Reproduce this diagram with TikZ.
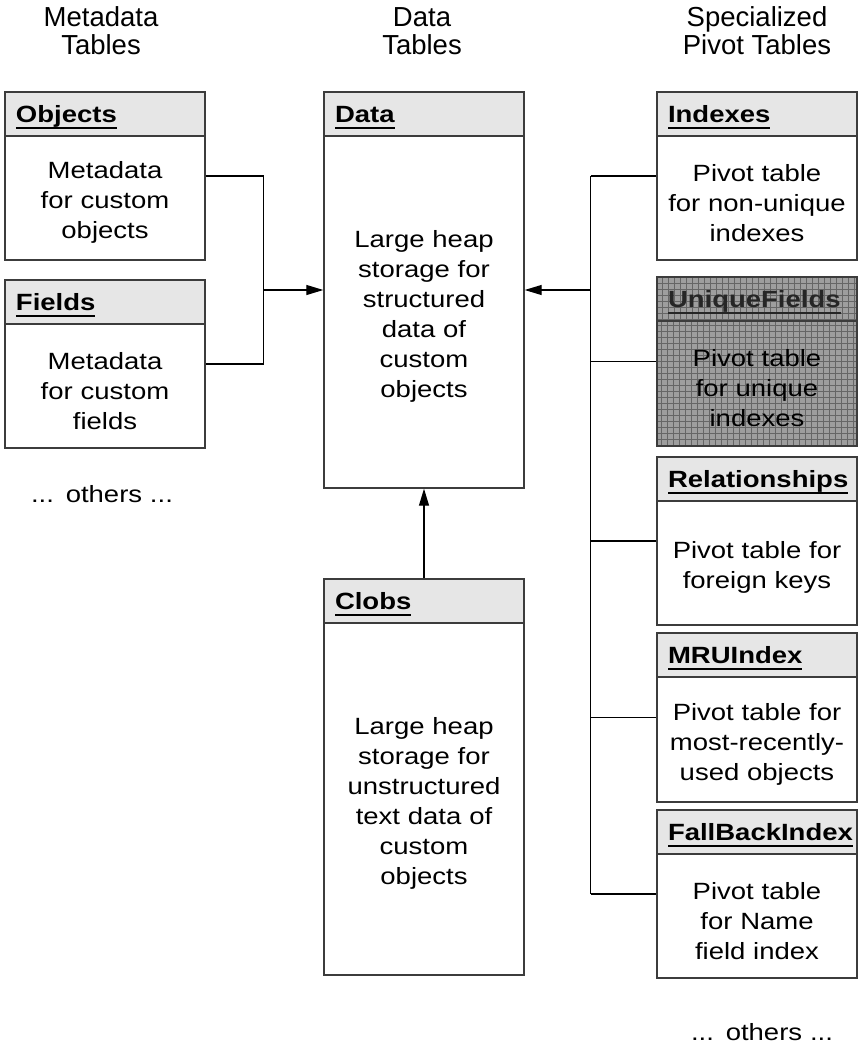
\documentclass[tikz,border=0pt]{standalone}
\usepackage{fontspec}
\setmainfont{Liberation Sans}
\newfontfamily\boxfont[FakeStretch=1.17]{Liberation Sans}
\usetikzlibrary{arrows.meta}
\definecolor{H}{RGB}{230,230,230}
\definecolor{B}{RGB}{60,60,60}
\definecolor{P}{RGB}{158,158,158}
\newcommand{\headline}[1]{\setbox0\hbox{#1}\rlap{\rule[-7pt]{\wd0}{2pt}}\box0}
\newcommand{\dbtable}[7][]{
\node[tabframe,#1,minimum height=#5pt] (#2) at (#3+100,#4+#5/2) {};
\node[tabhead,#1] (#2-h) at (#2.north west) {\headline{#6}};
\path (#2-h.south) -- (#2.south) node[midway,tabbody] (#2-b) {#7};
}
\tikzset{
  tabframe/.style={draw=B, line width=1.4pt, fill=white, minimum width=200pt, inner sep=0pt},
  tabhead/.style={draw=B, line width=1.4pt, fill=H, anchor=north west, minimum height=44pt,
    text width=178pt, inner xsep=11pt, inner ysep=0pt, align=left, text height=18pt, text depth=2pt,
    font=\boxfont\bfseries\fontsize{23.5}{30}\selectfont},
  tabbody/.style={text width=196pt, inner sep=0pt, align=center, yshift=-4pt,
    font=\boxfont\fontsize{23.5}{30}\selectfont},
  coltitle/.style={align=center, font=\fontsize{27.5}{28}\selectfont},
  link/.style={line width=1.2pt},
  arr/.style={link, -{Triangle[length=17pt,width=10pt]}},
  pivothatch/.style={fill=P, text=black!85, path picture={
    \draw[black!60, line width=0.6pt, step=6pt] (path picture bounding box.south west) grid (path picture bounding box.north east);}}
}

\begin{document}
\begin{tikzpicture}[x=1pt,y=-1pt]
\useasboundingbox (0,0) rectangle (859,1044);
% column titles
\node[coltitle] (t1) at (101,31) {Metadata\\Tables};
\node[coltitle] (t2) at (422,31) {Data\\Tables};
\node[coltitle] (t3) at (757,31) {Specialized\\Pivot Tables};
% tables
\dbtable{Objects}{5}{92}{168}{Objects}{Metadata\\for custom\\objects}
\dbtable{Fields}{5}{280}{168}{Fields}{Metadata\\for custom\\fields}
\dbtable{Data}{324}{92}{396}{Data}{Large heap\\storage for\\structured\\data of\\custom\\objects}
\dbtable{Clobs}{324}{579}{396}{Clobs}{Large heap\\storage for\\unstructured\\text data of\\custom\\objects}
\dbtable{Indexes}{657}{92}{168}{Indexes}{Pivot table\\for non-unique\\indexes}
\dbtable[pivothatch]{UniqueFields}{657}{277}{169}{UniqueFields}{Pivot table\\for unique\\indexes}
\dbtable{Relationships}{657}{457}{168}{Relationships}{Pivot table for\\foreign keys}
\dbtable{MRUIndex}{657}{633}{169}{MRUIndex}{Pivot table for\\most-recently-\\used objects}
\dbtable{FallBackIndex}{657}{810}{168}{FallBackIndex}{Pivot table\\for Name\\field index}
\node[tabbody,yshift=0pt] (more1) at (102,490) {... others ...};
\node[tabbody,yshift=0pt] (more2) at (762,1028) {... others ...};
% connectors
\path (Data.west) ++(-60,0) coordinate (jl);
\path (Data.east) ++(66,0) coordinate (jr);
\draw[link] (Objects.east) -| (jl) |- (Fields.east);
\draw[arr] (jl) -- (Data.west);
\draw[link] (jr |- Indexes.east) -- (jr |- FallBackIndex.west);
\foreach \t in {Indexes,UniqueFields,Relationships,MRUIndex,FallBackIndex}
  \draw[link] (jr |- \t.west) -- (\t.west);
\draw[arr] (jr) -- (Data.east);
\draw[arr] (Clobs.north) -- (Data.south);
\end{tikzpicture}
\end{document}
